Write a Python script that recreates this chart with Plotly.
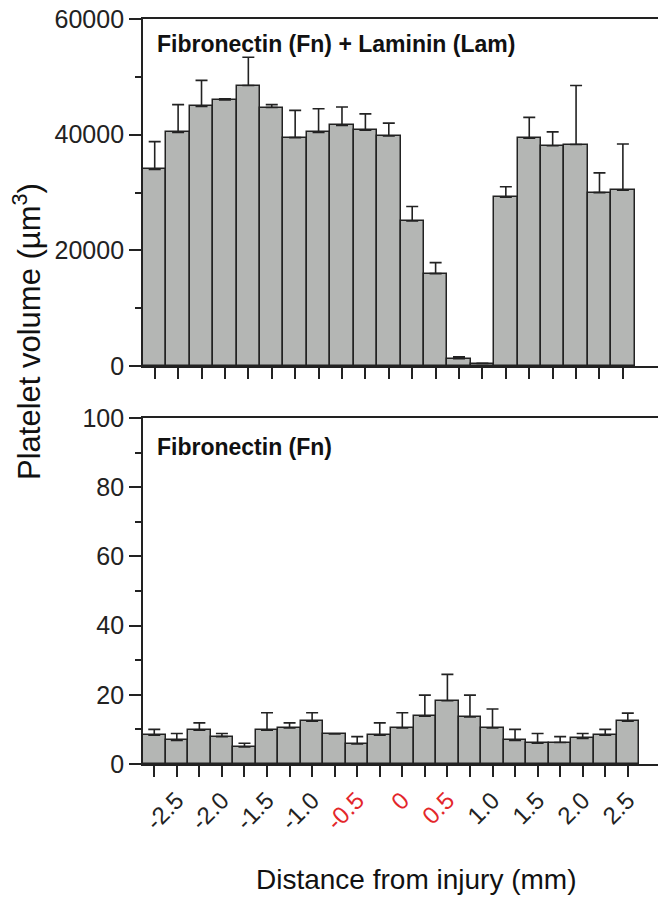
import plotly.graph_objects as go
from plotly.subplots import make_subplots

# ---- data ----
# Top panel: Fibronectin + Laminin (21 bars)
top_index = list(range(21))
top_values = [34000, 40400, 44900, 46000, 48500, 44700, 39500, 40400, 41600, 40800,
              39800, 25100, 16000, 1300, 450, 29200, 39400, 38100, 38300, 30000, 30400]
top_upper = [38800, 45200, 49400, 46200, 53400, 45200, 44200, 44500, 44800, 43600,
             42000, 27600, 17900, 1600, 500, 31000, 43000, 40500, 48500, 33400, 38400]

# Bottom panel: Fibronectin (22 bars), distance from injury (mm)
bottom_distance = [-2.75, -2.5, -2.25, -2.0, -1.75, -1.5, -1.25, -1.0, -0.75, -0.5, -0.25,
                   0.0, 0.25, 0.5, 0.75, 1.0, 1.25, 1.5, 1.75, 2.0, 2.25, 2.5]
bottom_values = [8.3, 6.8, 9.8, 7.9, 4.9, 9.8, 10.4, 12.4, 8.7, 5.8, 8.3,
                 10.4, 13.8, 18.3, 13.6, 10.4, 6.8, 6.0, 6.2, 7.4, 8.3, 12.4]
bottom_upper = [10.0, 8.8, 11.9, 8.8, 6.0, 14.8, 11.9, 14.8, 8.7, 7.9, 11.9,
                14.8, 19.9, 25.9, 19.9, 15.9, 10.0, 8.8, 7.9, 8.8, 10.0, 14.7]

tick_labels = ["-2.5", "-2.0", "-1.5", "-1.0", "-0.5", "0", "0.5", "1.0", "1.5", "2.0", "2.5"]
red_labels = ["-0.5", "0", "0.5"]

top_title = "Fibronectin (Fn) + Laminin (Lam)"
bottom_title = "Fibronectin (Fn)"

# ---- styles ----
BAR_FILL = "#b4b6b4"
DARK = "#222222"
RED = "#e3262b"
FONT = "Arial, Liberation Sans, sans-serif"

fig = make_subplots(rows=2, cols=1, shared_xaxes=False, vertical_spacing=0.07)

fig.add_trace(go.Bar(
    x=top_index, y=top_values, width=1.0,
    marker=dict(color=BAR_FILL, line=dict(color=DARK, width=1.5)),
    error_y=dict(type="data", symmetric=False,
                 array=[u - v for u, v in zip(top_upper, top_values)],
                 arrayminus=[0] * len(top_values),
                 color=DARK, thickness=1.6, width=6),
    showlegend=False), row=1, col=1)

bottom_index = list(range(len(bottom_distance)))
fig.add_trace(go.Bar(
    x=bottom_index, y=bottom_values, width=1.0,
    marker=dict(color=BAR_FILL, line=dict(color=DARK, width=1.5)),
    error_y=dict(type="data", symmetric=False,
                 array=[u - v for u, v in zip(bottom_upper, bottom_values)],
                 arrayminus=[0] * len(bottom_values),
                 color=DARK, thickness=1.6, width=6),
    showlegend=False), row=2, col=1)


def fmt(d):
    return "0" if abs(d) < 1e-9 else f"{d:.1f}"


bottom_ticktext = []
for d in bottom_distance:
    s = fmt(d)
    if s in tick_labels and abs(round(d * 2) - d * 2) < 1e-9:
        if s in red_labels:
            bottom_ticktext.append(f"<span style='color:{RED}'>{s}</span>")
        else:
            bottom_ticktext.append(s)
    else:
        bottom_ticktext.append(" ")

axis_common = dict(showline=True, linecolor=DARK, linewidth=1.8, mirror=True,
                   ticks="outside", tickcolor=DARK, tickwidth=1.6,
                   showgrid=False, zeroline=False)

fig.update_xaxes(axis_common, row=1, col=1)
fig.update_xaxes(domain=[0, 1], range=[-0.5, 21.5], tickmode="array",
                 tickvals=top_index, ticktext=[" "] * len(top_index), ticklen=11,
                 row=1, col=1)
fig.update_xaxes(axis_common, row=2, col=1)
fig.update_xaxes(domain=[0, 1], range=[-0.5, 22.34], tickmode="array",
                 tickvals=bottom_index, ticktext=bottom_ticktext, ticklen=11,
                 tickangle=-45, tickfont=dict(family=FONT, size=24, color=DARK),
                 row=2, col=1)

yaxis_common = dict(showline=True, linecolor=DARK, linewidth=1.8,
                    ticks="outside", tickcolor=DARK, tickwidth=1.6, ticklen=12,
                    showgrid=False, zeroline=False, tickformat="d",
                    tickfont=dict(family=FONT, size=25, color=DARK))
fig.update_yaxes(yaxis_common, row=1, col=1)
fig.update_yaxes(domain=[0.534, 1], range=[0, 60000], tickmode="array",
                 tickvals=[0, 20000, 40000, 60000],
                 minor=dict(tickmode="array", tickvals=[10000, 30000, 50000],
                            ticks="outside", ticklen=6, tickcolor=DARK, tickwidth=1.6),
                 row=1, col=1)
fig.update_yaxes(yaxis_common, row=2, col=1)
fig.update_yaxes(domain=[0, 0.4644], range=[0, 100], tickmode="array",
                 tickvals=[0, 20, 40, 60, 80, 100],
                 minor=dict(tickmode="array", tickvals=[10, 30, 50, 70, 90],
                            ticks="outside", ticklen=6, tickcolor=DARK, tickwidth=1.6),
                 row=2, col=1)

fig.add_annotation(text=f"<b>{top_title}</b>", xref="paper", yref="paper",
                   x=0.024, y=0.967, xanchor="left", yanchor="middle", showarrow=False,
                   font=dict(family=FONT, size=23, color="#111111"))
fig.add_annotation(text=f"<b>{bottom_title}</b>", xref="paper", yref="paper",
                   x=0.024, y=0.425, xanchor="left", yanchor="middle", showarrow=False,
                   font=dict(family=FONT, size=23, color="#111111"))

fig.add_annotation(text="Platelet volume (µm<sup>3</sup>)", xref="paper", yref="paper",
                   x=-0.225, y=0.58, xanchor="center", yanchor="middle", textangle=-90,
                   showarrow=False, font=dict(family=FONT, size=31, color="#111111"))
fig.add_annotation(text="Distance from injury (mm)", xref="paper", yref="paper",
                   x=0.53, y=-0.155, xanchor="center", yanchor="middle",
                   showarrow=False, font=dict(family=FONT, size=28, color="#111111"))

fig.update_layout(width=658, height=903, bargap=0,
                  margin=dict(l=143, r=0, t=19, b=139),
                  plot_bgcolor="white", paper_bgcolor="white",
                  font=dict(family=FONT, color=DARK))

fig.write_html("out.html")
